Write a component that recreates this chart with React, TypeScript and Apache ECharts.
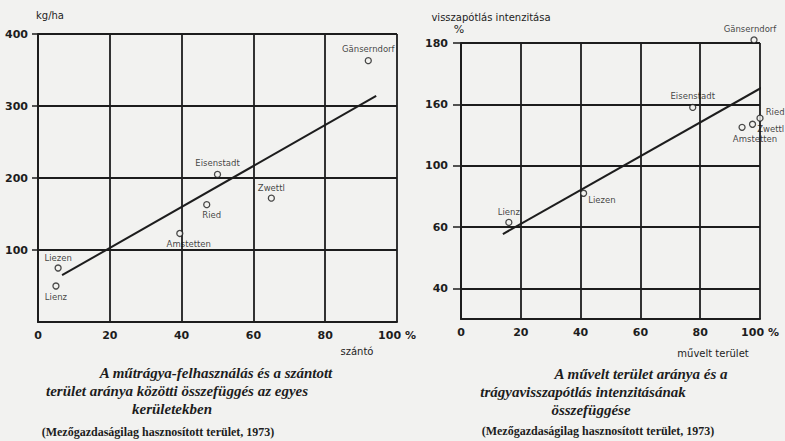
import React, { useEffect, useRef } from 'react';
import * as echarts from 'echarts';

// ---- Left chart: fertiliser use (kg/ha) vs share of arable land (%) ----
const leftNames = ['Gänserndorf', 'Eisenstadt', 'Zwettl', 'Ried', 'Amstetten', 'Liezen', 'Lienz'];
const leftX = [92, 50, 65, 47, 39.5, 5.6, 5];
const leftY = [363, 205, 172, 163, 123, 75, 50];
const leftTrendX = [6.7, 94.2];
const leftTrendY = [65, 314];
const leftXTicks = [0, 20, 40, 60, 80, 100];
const leftYTicks = [100, 200, 300, 400];

// ---- Right chart: replenishment intensity (%) vs cultivated area share (%) ----
const rightNames = ['Gänserndorf', 'Eisenstadt', 'Ried', 'Zwettl', 'Amstetten', 'Liezen', 'Lienz'];
const rightX = [98, 77.5, 100, 97.5, 94, 41, 16];
const rightY = [121, 99, 95.5, 93.5, 92.5, 71, 61.5];
const rightTrendX = [14, 103];
const rightTrendY = [57.7, 106.8];
const rightYTickValues = [40, 60, 80, 100, 120];
const rightYTickLabels = ['40', '60', '100', '160', '180'];

const INK = '#1d1d1d';
const BG = '#f2f2f0';
const SANS = "'DejaVu Sans', 'Liberation Sans', sans-serif";
const SERIF = "'Liberation Serif', 'DejaVu Serif', serif";

// label placement (style only): position, distance and pixel nudges
const leftLabelStyle: Record<string, any> = {
  'Gänserndorf': { position: 'top', distance: 3 },
  'Eisenstadt': { position: 'top', distance: 3 },
  'Zwettl': { position: 'top', distance: 2 },
  'Ried': { position: 'bottom', distance: 2, dx: 5 },
  'Amstetten': { position: 'bottom', distance: 2, dx: 9 },
  'Liezen': { position: 'top', distance: 2 },
  'Lienz': { position: 'bottom', distance: 3 },
};
const rightLabelStyle: Record<string, any> = {
  'Gänserndorf': { position: 'top', distance: 3, dx: -4 },
  'Eisenstadt': { position: 'top', distance: 3 },
  'Ried': { position: 'right', distance: 2, dy: -6 },
  'Zwettl': { position: 'right', distance: 1, dy: 5 },
  'Amstetten': { position: 'bottom', distance: 4, dx: 13 },
  'Liezen': { position: 'right', distance: 1, dy: 7 },
  'Lienz': { position: 'top', distance: 2 },
};

const captionText = (text: string, x: number, y: number, italic = true, size = 15) => ({
  type: 'text',
  x,
  y,
  style: {
    text,
    fill: INK,
    font: `${italic ? 'italic ' : ''}bold ${size}px ${SERIF}`,
    textAlign: 'center',
    textVerticalAlign: 'middle',
  },
});

const axisText = (text: string, x: number, y: number, size = 10) => ({
  type: 'text',
  x,
  y,
  style: {
    text,
    fill: INK,
    font: `${size}px ${SANS}`,
    textAlign: 'center',
    textVerticalAlign: 'middle',
  },
});

export default function App() {
  const ref = useRef<HTMLDivElement>(null);
  useEffect(() => {
    const chart = echarts.init(ref.current!, null, { renderer: 'svg' });

    const mkPts = (names: string[], xs: number[], ys: number[], st: Record<string, any>) =>
      names.map((n, i) => ({
        name: n,
        value: [xs[i], ys[i]],
        label: { position: st[n].position, distance: st[n].distance },
      }));
    const leftPts = mkPts(leftNames, leftX, leftY, leftLabelStyle);
    const rightPts = mkPts(rightNames, rightX, rightY, rightLabelStyle);

    const tickLabel = {
      color: INK,
      fontSize: 11,
      fontWeight: 'bold' as const,
      fontFamily: SANS,
    };
    const gridLine = { show: true, lineStyle: { color: INK, width: 1.8 } };
    const axisLine = { show: true, onZero: false, lineStyle: { color: INK, width: 2 } };

    const pointSeries = (xi: number, data: any[], names: string[], st: Record<string, any>) => ({
      type: 'scatter',
      xAxisIndex: xi,
      yAxisIndex: xi,
      symbol: 'circle',
      symbolSize: 6,
      clip: false,
      z: 5,
      itemStyle: { color: BG, borderColor: INK, borderWidth: 1.3 },
      label: { show: true, formatter: '{b}', fontSize: 8.5, color: '#111', fontFamily: SANS },
      labelLayout: (p: any) => {
        const s = st[names[p.dataIndex]] || {};
        return { dx: s.dx || 0, dy: s.dy || 0, hideOverlap: false };
      },
      data,
    });

    const option: any = {
      animation: false,
      backgroundColor: BG,
      grid: [
        { left: 38, top: 34, width: 359, height: 288 },
        { left: 461, top: 43, width: 299, height: 276 },
      ],
      xAxis: [
        {
          gridIndex: 0,
          type: 'value',
          min: 0,
          max: 100,
          interval: 20,
          axisLine,
          axisTick: { show: false },
          axisLabel: { ...tickLabel, margin: 8, customValues: leftXTicks, formatter: (v: number) => (v === 100 ? '100 %' : String(v)) },
          splitLine: gridLine,
        },
        {
          gridIndex: 1,
          type: 'value',
          min: 0,
          max: 100,
          interval: 20,
          axisLine,
          axisTick: { show: false },
          axisLabel: { ...tickLabel, margin: 8, formatter: (v: number) => (v === 100 ? '100 %' : String(v)) },
          splitLine: gridLine,
        },
      ],
      yAxis: [
        {
          gridIndex: 0,
          type: 'value',
          min: 0,
          max: 400,
          interval: 100,
          axisLine,
          axisTick: { show: true, length: 6, lineStyle: { color: INK, width: 1.5 }, customValues: leftYTicks },
          axisLabel: { ...tickLabel, margin: 10, customValues: leftYTicks },
          splitLine: gridLine,
        },
        {
          gridIndex: 1,
          type: 'value',
          min: 30,
          max: 120,
          interval: 10,
          axisLine,
          axisTick: { show: true, length: 8, lineStyle: { color: INK, width: 1.5 }, customValues: rightYTickValues },
          axisLabel: {
            ...tickLabel,
            margin: 13,
            customValues: rightYTickValues,
            formatter: (v: number) => rightYTickLabels[rightYTickValues.indexOf(v)] ?? '',
          },
          splitLine: { show: false },
        },
      ],
      series: [
        {
          type: 'line',
          xAxisIndex: 0,
          yAxisIndex: 0,
          showSymbol: false,
          symbol: 'none',
          z: 3,
          lineStyle: { color: INK, width: 2 },
          data: leftTrendX.map((x, i) => [x, leftTrendY[i]]),
        },
        pointSeries(0, leftPts, leftNames, leftLabelStyle),
        {
          type: 'line',
          xAxisIndex: 1,
          yAxisIndex: 1,
          showSymbol: false,
          symbol: 'none',
          clip: false,
          z: 3,
          lineStyle: { color: INK, width: 2 },
          data: rightTrendX.map((x, i) => [x, rightTrendY[i]]),
        },
        {
          ...pointSeries(1, rightPts, rightNames, rightLabelStyle),
          markLine: {
            silent: true,
            symbol: 'none',
            z: 1,
            label: { show: false },
            lineStyle: { color: INK, width: 1.8, type: 'solid' },
            data: rightYTickValues.map((v) => ({ yAxis: v })),
          },
        },
      ],
      graphic: [
        axisText('kg/ha', 50, 15),
        axisText('szántó', 357, 351),
        axisText('visszapótlás intenzitása', 491, 17),
        axisText('%', 459, 29, 11),
        axisText('művelt terület', 713, 353),
        captionText('A műtrágya-felhasználás és a szántott', 216, 373),
        captionText('terület aránya közötti összefüggés az egyes', 177, 391),
        captionText('kerületekben', 172, 409),
        captionText('(Mezőgazdaságilag hasznosított terület, 1973)', 158, 432, false, 12),
        captionText('A művelt terület aránya és a', 641, 374),
        captionText('trágyavisszapótlás intenzitásának', 583, 392),
        captionText('összefüggése', 591, 410),
        captionText('(Mezőgazdaságilag hasznosított terület, 1973)', 598, 431, false, 12),
      ],
    };
    chart.setOption(option);
    return () => chart.dispose();
  }, []);
  return <div ref={ref} style={{ position: 'fixed', left: 0, top: 0, width: 785, height: 441 }} />;
}
